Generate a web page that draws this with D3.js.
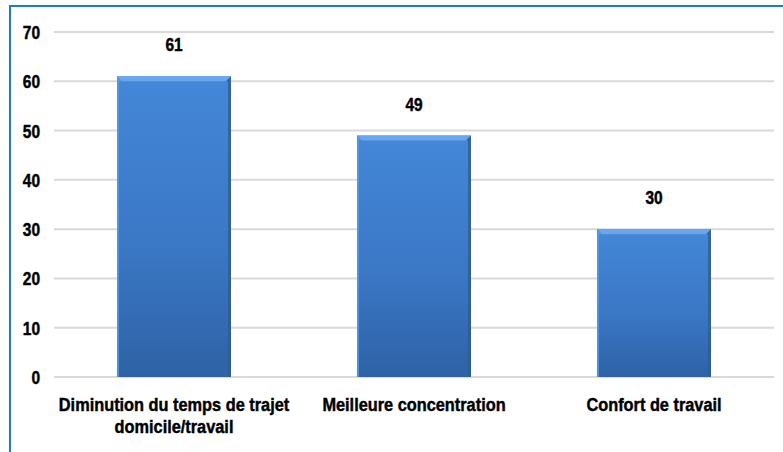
<!DOCTYPE html>
<html>
<head>
<meta charset="utf-8">
<script src="https://d3js.org/d3.v7.min.js"></script>
<style>
  body { margin: 0; background: #fff; }
  text { font-family: "Liberation Sans Narrow", "Arial Narrow", "Liberation Sans", sans-serif; font-weight: bold; fill: #000; stroke: #000; stroke-width: 0.45px; }
</style>
</head>
<body>
<div id="chart"></div>
<script>
// data
var categories = [["Diminution du temps de trajet", "domicile/travail"], ["Meilleure concentration"], ["Confort de travail"]];
var values = [61, 49, 30];
var yTicks = [0, 10, 20, 30, 40, 50, 60, 70];

var W = 783, H = 452;
var squeeze = "scale(0.86,1)"; // the original font is a condensed bold

var svg = d3.select("#chart").append("svg")
  .attr("width", W)
  .attr("height", H);

// bar gradient
var defs = svg.append("defs");
var grad = defs.append("linearGradient")
  .attr("id", "barGrad")
  .attr("x1", 0).attr("y1", 0).attr("x2", 0).attr("y2", 1);
grad.append("stop").attr("offset", "0%").attr("stop-color", "#4487d8");
grad.append("stop").attr("offset", "55%").attr("stop-color", "#3b78c6");
grad.append("stop").attr("offset", "100%").attr("stop-color", "#2e62a6");

// frame (top and left edges show)
svg.append("line").attr("x1", 9).attr("x2", W).attr("y1", 6).attr("y2", 6)
  .attr("stroke", "#1f78d2").attr("stroke-width", 2);
svg.append("line").attr("x1", 10).attr("x2", 10).attr("y1", 6).attr("y2", H)
  .attr("stroke", "#1f78d2").attr("stroke-width", 2);

var x = d3.scaleBand()
  .domain(d3.range(values.length))
  .range([54, 774])
  .paddingInner(0.525)
  .paddingOuter(0.2625);

var y = d3.scaleLinear()
  .domain([0, 70])
  .range([377, 32]);

// gridlines
svg.append("g")
  .selectAll("line")
  .data(yTicks)
  .enter().append("line")
    .attr("x1", 54).attr("x2", 774)
    .attr("y1", function(d) { return y(d); })
    .attr("y2", function(d) { return y(d); })
    .attr("stroke", "#d9d9d9")
    .attr("stroke-width", 2);

// y axis labels
var yAxis = d3.axisLeft(y).tickValues(yTicks).tickSize(0).tickPadding(0);
var gy = svg.append("g")
  .attr("transform", "translate(40,0)")
  .call(yAxis);
gy.select(".domain").remove();
gy.selectAll("text")
  .attr("font-family", null)
  .style("font-size", "18px")
  .attr("dy", "0.36em")
  .attr("transform", squeeze);

// bars
var bars = svg.append("g").selectAll("g")
  .data(values)
  .enter().append("g");

bars.append("rect")
  .attr("x", function(d, i) { return x(i); })
  .attr("y", function(d) { return y(d); })
  .attr("width", x.bandwidth())
  .attr("height", function(d) { return y(0) - y(d); })
  .attr("fill", "url(#barGrad)");

var bev = 5;
// top bevel
bars.append("path")
  .attr("d", function(d, i) {
    var x0 = x(i), x1 = x(i) + x.bandwidth(), t = y(d);
    return "M" + x0 + "," + t + "L" + x1 + "," + t + "L" + (x1 - bev) + "," + (t + bev) + "L" + (x0 + bev) + "," + (t + bev) + "Z";
  })
  .attr("fill", "#6aa6ec");
// right edge darker
bars.append("path")
  .attr("d", function(d, i) {
    var x1 = x(i) + x.bandwidth(), t = y(d), b = y(0);
    return "M" + x1 + "," + t + "L" + x1 + "," + b + "L" + (x1 - 3) + "," + b + "L" + (x1 - 3) + "," + (t + bev) + "L" + (x1 - bev) + "," + (t + bev) + "Z";
  })
  .attr("fill", "#2a5c9e")
  .attr("opacity", 0.8);
// left edge lighter
bars.append("path")
  .attr("d", function(d, i) {
    var x0 = x(i), t = y(d), b = y(0);
    return "M" + x0 + "," + t + "L" + (x0 + bev) + "," + (t + bev) + "L" + (x0 + 2) + "," + (t + bev) + "L" + (x0 + 2) + "," + b + "L" + x0 + "," + b + "Z";
  })
  .attr("fill", "#5b98e0")
  .attr("opacity", 0.8);

// value labels
bars.append("text")
  .attr("transform", function(d, i) {
    return "translate(" + (x(i) + x.bandwidth() / 2) + "," + (y(d) - 25) + ") " + squeeze;
  })
  .attr("text-anchor", "middle")
  .style("font-size", "18px")
  .text(function(d) { return d; });

// category labels
var cat = svg.append("g").selectAll("text")
  .data(categories)
  .enter().append("text")
    .attr("transform", function(d, i) {
      return "translate(" + (x(i) + x.bandwidth() / 2) + ",411) " + squeeze;
    })
    .attr("text-anchor", "middle")
    .style("font-size", "19px");
cat.selectAll("tspan")
  .data(function(d) { return d; })
  .enter().append("tspan")
    .attr("x", 0)
    .attr("dy", function(d, j) { return j === 0 ? 0 : 22; })
    .text(function(d) { return d; });
</script>
</body>
</html>
